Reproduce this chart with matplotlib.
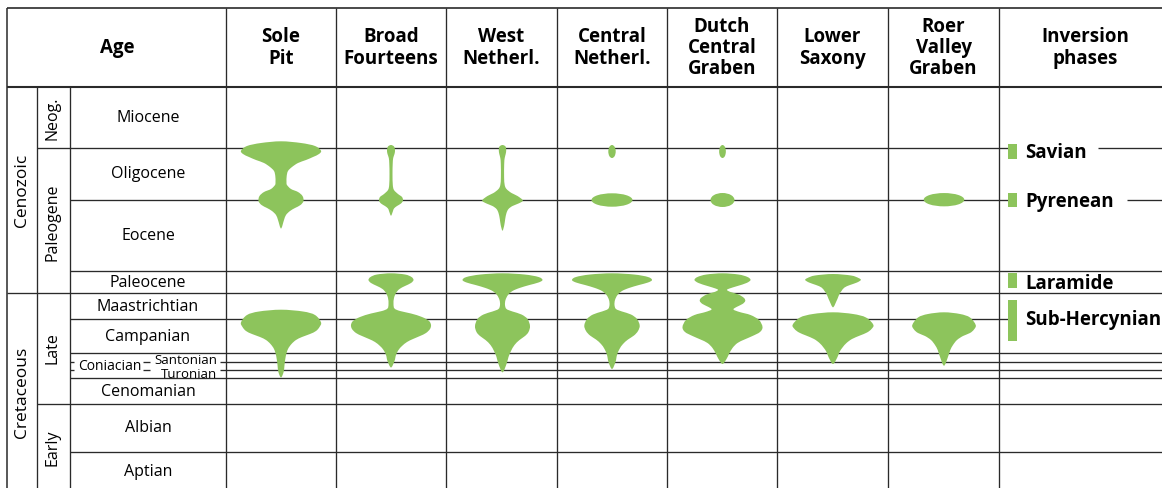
"""
Inversion timing chart: Late Cretaceous - Tertiary inversion pulses
per basin, drawn on a stratigraphic table (pixel coordinates).
"""

import numpy as np
import matplotlib.pyplot as plt
from matplotlib.path import Path
from matplotlib.patches import PathPatch, Ellipse, Rectangle

# ============================================================
# CONFIG
# ============================================================
W, H = 1162, 489
GREEN = "#8dc45c"
INK = "#2a2a2a"
FONT = ["Open Sans", "DejaVu Sans"]

# table frame (px)
X_LEFT, X_ERA, X_EPOCH, X_STAGE = 7, 37, 70, 226
Y_TOP, Y_HEAD = 9, 88
COL_EDGES = [226, 336, 446, 557, 667, 777, 888, 999]

AREAS = ["Sole\nPit", "Broad\nFourteens", "West\nNetherl.", "Central\nNetherl.",
         "Dutch\nCentral\nGraben", "Lower\nSaxony", "Roer\nValley\nGraben"]

STAGES = ["Miocene", "Oligocene", "Eocene", "Paleocene", "Maastrichtian",
          "Campanian", "Cenomanian", "Albian", "Aptian"]
STAGE_Y = [118, 174, 236, 283, 307, 337, 392, 428, 472]

# horizontal boundaries and where they start on the left
BOUNDARY_Y = [149, 201, 272, 294, 320, 354, 379, 405, 453]
BOUNDARY_X0 = [X_ERA, X_EPOCH, X_EPOCH, X_LEFT, X_EPOCH, X_EPOCH, X_EPOCH, X_ERA, X_EPOCH]
# gaps left open in the phase column for the labels
BOUNDARY_GAP = {149: (1013, 1098), 201: (1013, 1127), 320: (1013, W)}

# thin Santonian / Coniacian / Turonian band
THIN_Y = [363, 371]
THIN_SEGMENTS = [(X_EPOCH, 74), (143, 150), (220, W)]

ERAS = ["Cenozoic", "Cretaceous"]
ERA_Y = [190, 392]
EPOCHS = ["Neog.", "Paleogene", "Late", "Early"]
EPOCH_Y = [118, 222, 348, 448]

PHASES = ["Savian", "Pyrenean", "Laramide", "Sub-Hercynian"]
PHASE_TOP = [145, 194, 274, 301]
PHASE_BOTTOM = [160, 208, 289, 342]
PHASE_LABEL_Y = [153, 202, 284, 320]

# ------------------------------------------------------------
# inversion intensity profiles: (depth px, half width px)
# ------------------------------------------------------------
sole_pit_tert = [(142.3, 0), (144, 20), (147, 34), (151.7, 40), (155, 38), (158, 32),
                 (161, 25), (164, 17), (168, 11), (172, 7), (177, 5.7), (183, 5.5),
                 (186, 6), (190, 10), (193, 17), (197, 21.5), (202, 22.5), (206, 19.5),
                 (209, 14), (212, 9), (216, 5), (221, 3), (229.5, 0)]
sole_pit_cret = [(310.7, 0), (312.5, 22), (316, 34), (323.3, 40), (328, 38.5), (332, 35),
                 (335, 29), (338, 21), (341, 15), (345, 10.5), (350, 7), (357, 4.8),
                 (366, 3.5), (373, 2.6), (378.5, 0)]

broad_tert = [(146, 0), (147.5, 3), (151, 4), (155, 3.5), (159, 2.2), (165, 1.7),
              (175, 1.5), (186, 1.8), (191, 3), (195, 7), (198, 11), (201.5, 12),
              (204.5, 10), (207, 6), (209.5, 3), (212, 2), (216.7, 0)]
broad_cret = [(274.3, 0), (275.5, 14), (278, 20.5), (281, 22.5), (284, 20), (287, 14),
              (290, 8.5), (294, 5), (299, 3), (305, 2.5), (309.5, 3.5), (312, 9),
              (314.5, 20), (318, 31), (322, 38), (326, 40), (330, 39), (334, 35),
              (337, 29), (340, 22), (343, 16), (347, 11), (351, 7.5), (356, 5),
              (362, 3.5), (368.5, 0)]

west_tert = [(146, 0), (147.5, 3), (151, 3.7), (155, 3.2), (159, 2.2), (165, 1.7),
             (178, 1.6), (186, 2.2), (190, 4), (194, 9), (197, 15), (201.5, 20.3),
             (204.5, 16), (207, 10), (210, 6), (214, 4), (220, 2.7), (226, 1.8),
             (231.7, 0)]
west_cret = [(274.3, 0), (275.5, 22), (278, 36), (281, 40), (283.5, 36), (286, 27),
             (289, 17), (292, 10), (296, 5.5), (301, 3), (306, 2.5), (310, 4),
             (312.5, 10), (315.5, 19), (320, 25), (327, 27.5), (333, 26), (337, 22.5),
             (341, 17), (346, 12), (352, 8.5), (358, 6), (365, 4), (373.3, 0)]

central_cret = [(274.3, 0), (275.5, 22), (278, 36), (281, 40), (283.5, 36), (286, 27),
                (289, 17), (292, 10), (296, 5.5), (301, 3), (306, 2.5), (310, 4),
                (312.5, 10), (315.5, 19), (320, 25), (326.5, 27.7), (332, 26),
                (336.5, 22), (340.5, 16), (345, 11), (350, 7.5), (356, 5), (363, 3.5),
                (370, 0)]

dutch_cret = [(274.3, 0), (275.5, 16), (278, 25), (281, 28), (284, 24), (287, 15),
              (289.5, 7), (291, 4.5), (293, 8), (295.5, 16), (299, 21.5), (302, 22.7),
              (305, 20), (308, 14), (310.5, 11), (313, 17), (316, 28), (321, 36.5),
              (328, 40), (333, 37.5), (337, 30), (340.5, 22), (344, 15), (349, 10),
              (355, 6.5), (360, 4), (365, 0)]

saxony_paleo = [(275, 0), (276.5, 18), (279, 25.5), (281, 27.8), (283.5, 24), (286, 17),
                (288.5, 11.5), (292, 8.5), (295, 6.5), (298.5, 5), (302, 3.5), (308.3, 0)]
saxony_cret = [(313.3, 0), (315, 20), (318.5, 33), (325.7, 40.3), (330, 38.5),
               (333.5, 34), (336.5, 27), (340, 19), (344, 13.5), (348.5, 9.5),
               (353, 6.5), (358, 4.5), (365, 0)]

roer_cret = [(313.3, 0), (315, 16), (318.5, 26), (326, 31.7), (330.5, 30), (334, 26),
             (337, 19), (341, 13), (346, 9), (351, 6.3), (357, 4.3), (366.7, 0)]

# short isolated pulses: (centre x, centre y, width, height)
PULSES = [(612, 152.5, 7.4, 13), (612, 201, 41, 13.4),
          (722.5, 152.5, 6.7, 13), (722.5, 201, 24, 14),
          (944, 200.7, 40.6, 13.3)]

VASES = [(281, sole_pit_tert), (281, sole_pit_cret),
         (391, broad_tert), (391, broad_cret),
         (502.5, west_tert), (502.5, west_cret),
         (612, central_cret), (722.5, dutch_cret),
         (833, saxony_paleo), (833, saxony_cret),
         (944, roer_cret)]


# ============================================================
# HELPERS
# ============================================================
def smooth_outline(pts):
    """Closed Catmull-Rom curve through the outline points, as a Bezier path."""
    pts = np.asarray(pts, float)
    n = len(pts)
    verts, codes = [pts[0]], [Path.MOVETO]
    for i in range(n):
        p0, p1, p2, p3 = pts[i - 1], pts[i], pts[(i + 1) % n], pts[(i + 2) % n]
        verts += [p1 + (p2 - p0) / 6, p2 - (p3 - p1) / 6, p2]
        codes += [Path.CURVE4] * 3
    verts.append(pts[0])
    codes.append(Path.CLOSEPOLY)
    return Path(verts, codes)


def draw_vase(ax, cx, profile):
    right = [(cx + hw, y) for y, hw in profile]
    left = [(cx - hw, y) for y, hw in profile[1:-1]][::-1]
    ax.add_patch(PathPatch(smooth_outline(right + left), fc=GREEN, ec="none", zorder=3))


def hline(ax, y, x0, x1, lw=0.95):
    ax.plot([x0, x1], [y, y], color=INK, lw=lw, solid_capstyle="butt", zorder=2)


def vline(ax, x, y0, y1, lw=0.95):
    ax.plot([x, x], [y0, y1], color=INK, lw=lw, solid_capstyle="butt", zorder=2)


# ============================================================
# MAIN
# ============================================================
def main():
    fig = plt.figure(figsize=(W / 100, H / 100), dpi=100)
    ax = fig.add_axes([0, 0, 1, 1])
    ax.set_xlim(0, W)
    ax.set_ylim(H, 0)
    ax.axis("off")

    # ── frame ──────────────────────────────────────────
    hline(ax, Y_TOP, X_LEFT, W, lw=1.2)
    hline(ax, Y_HEAD, X_LEFT, W, lw=1.5)
    vline(ax, X_LEFT, Y_TOP, H, lw=1.1)
    vline(ax, X_ERA, Y_HEAD, H)
    vline(ax, X_EPOCH, Y_HEAD, H)
    for x in COL_EDGES:
        vline(ax, x, Y_TOP, H)

    for y, x0 in zip(BOUNDARY_Y, BOUNDARY_X0):
        if y in BOUNDARY_GAP:
            g0, g1 = BOUNDARY_GAP[y]
            hline(ax, y, x0, g0)
            if g1 < W:
                hline(ax, y, g1, W)
        else:
            hline(ax, y, x0, W)
    for y in THIN_Y:
        for x0, x1 in THIN_SEGMENTS:
            hline(ax, y, x0, x1)

    # ── header ─────────────────────────────────────────
    ax.text(117, 48, "Age", ha="center", va="center", fontsize=13.5,
            fontweight="bold", family=FONT)
    for i, name in enumerate(AREAS):
        cx = (COL_EDGES[i] + COL_EDGES[i + 1]) / 2
        ax.text(cx, 48, name, ha="center", va="center", fontsize=13.5,
                fontweight="bold", family=FONT, linespacing=1.1)
    ax.text(1085, 48, "Inversion\nphases", ha="center", va="center", fontsize=13.5,
            fontweight="bold", family=FONT, linespacing=1.1)

    # ── stratigraphy labels ───────────────────────────
    for name, y in zip(ERAS, ERA_Y):
        ax.text(22, y, name, ha="center", va="center", rotation=90,
                fontsize=12.5, family=FONT)
    for name, y in zip(EPOCHS, EPOCH_Y):
        ax.text(53, y, name, ha="center", va="center", rotation=90,
                fontsize=11.5, family=FONT)
    for name, y in zip(STAGES, STAGE_Y):
        ax.text(148, y, name, ha="center", va="center", fontsize=11.5, family=FONT)

    ax.text(217, 360, "Santonian", ha="right", va="center", fontsize=9.5, family=FONT)
    ax.text(217, 374, "Turonian", ha="right", va="center", fontsize=9.5, family=FONT)
    ax.text(110, 367, "Coniacian", ha="center", va="center", fontsize=10, family=FONT)

    # ── inversion pulses ──────────────────────────────
    for cx, profile in VASES:
        draw_vase(ax, cx, profile)
    for cx, cy, w, h in PULSES:
        ax.add_patch(Ellipse((cx, cy), w, h, fc=GREEN, ec="none", zorder=3))

    # ── phase column ──────────────────────────────────
    for name, y0, y1, ly in zip(PHASES, PHASE_TOP, PHASE_BOTTOM, PHASE_LABEL_Y):
        ax.add_patch(Rectangle((1008, y0), 9, y1 - y0, fc=GREEN, ec="none", zorder=3))
        ax.text(1025, ly, name, ha="left", va="center", fontsize=13.5,
                fontweight="bold", family=FONT)

    fig.savefig("out.png", dpi=100)


if __name__ == "__main__":
    main()
